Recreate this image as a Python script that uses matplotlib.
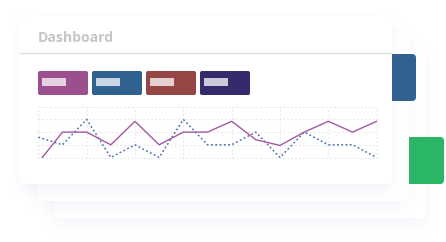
import numpy as np
import matplotlib
matplotlib.use("Agg")
import matplotlib.pyplot as plt
from matplotlib.patches import FancyBboxPatch, Rectangle

W, H = 446, 242

# card stack (x0, y0, x1, y1) in pixels, back to front
back_card = (54, 50, 426, 218)
mid_card = (37, 33, 409, 201)
front_card = (20, 16, 392, 184)
green_tab = (380, 137, 444, 184)
blue_tab = (370, 54, 416, 101)

# line chart
ticks = np.arange(15)
series_a = [-0.4, 2, 2, 1, 2.85, 1, 2, 2, 2.85, 1.4, 0.95, 2, 2.85, 2, 2.85]
series_b = [1.6, 1, 3, 0, 1, 0, 3, 1, 1, 2, 0, 2, 1, 1, 0]

btn_colors = ["#9c4f8e", "#316191", "#974646", "#362a6c"]
title = "Dashboard"


def blur(a, r, n=3):
    # repeated box blur ~ gaussian
    for _ in range(n):
        p = np.pad(a, ((r + 1, r), (0, 0)), mode="edge")
        c = np.cumsum(p, axis=0)
        a = (c[2 * r + 1:] - c[:-2 * r - 1]) / (2 * r + 1)
        p = np.pad(a, ((0, 0), (r + 1, r)), mode="edge")
        c = np.cumsum(p, axis=1)
        a = (c[:, 2 * r + 1:] - c[:, :-2 * r - 1]) / (2 * r + 1)
    return a


def shadow(ax, box, z, alpha=0.10, dy=5, r=7):
    x0, y0, x1, y1 = box
    m = np.zeros((H, W))
    m[int(y0 + dy):int(y1 + dy), int(x0 + 2):int(x1 - 2)] = 1.0
    m = blur(m, r)
    img = np.zeros((H, W, 4))
    img[..., 0], img[..., 1], img[..., 2] = 0.45, 0.52, 0.78
    img[..., 3] = m * alpha
    ax.imshow(img, extent=(0, W, H, 0), zorder=z, interpolation="bilinear")


def card(ax, box, z, color="white", rad=5):
    x0, y0, x1, y1 = box
    ax.add_patch(FancyBboxPatch((x0 + rad, y0 + rad), x1 - x0 - 2 * rad, y1 - y0 - 2 * rad,
                                boxstyle=f"round,pad={rad}", fc=color, ec="none", zorder=z))


fig = plt.figure(figsize=(W / 100, H / 100), dpi=100)
bg = fig.add_axes([0, 0, 1, 1])
bg.set_xlim(0, W); bg.set_ylim(H, 0); bg.axis("off")

shadow(bg, back_card, 1, alpha=0.09)
card(bg, back_card, 2)
card(bg, green_tab, 3, color="#2bb665", rad=4)
shadow(bg, mid_card, 4, alpha=0.08)
card(bg, mid_card, 5)
card(bg, blue_tab, 6, color="#316191", rad=4)
shadow(bg, front_card, 7, alpha=0.10)
card(bg, front_card, 8)

bg.text(37.5, 38.5, title, fontsize=10.1, fontweight="bold", family="Open Sans",
        color="#c6c6c6", va="center", ha="left", zorder=9)
bg.plot([20, 392], [53, 53], color="#e0e0e0", lw=1.0, zorder=9, solid_capstyle="butt")

# colour buttons with a pale label bar
for i, c in enumerate(btn_colors):
    x = 38 + i * 54
    bg.add_patch(FancyBboxPatch((x + 2, 73), 46, 20, boxstyle="round,pad=2",
                                fc=c, ec="none", zorder=9))
    bg.add_patch(Rectangle((x + 4, 78), 24, 8, fc="white", ec="none", alpha=0.75, zorder=10))

ax = fig.add_axes([38.3 / W, 1 - 157.5 / H, (376.7 - 38.3) / W, (157.5 - 106.7) / H])
ax.set_zorder(11)
ax.patch.set_alpha(0)
ax.set_xlim(ticks[0], ticks[-1]); ax.set_ylim(0, 4)
for s in ax.spines.values():
    s.set_visible(False)
ax.set_xticks([]); ax.set_yticks([])
for gx in ticks[::2]:
    ax.axvline(gx, color="#e6e6e6", lw=0.8, ls=(0, (1.5, 2)), clip_on=False)
for gy in range(5):
    ax.axhline(gy, color="#e6e6e6", lw=0.8, ls=(0, (1.5, 2)), clip_on=False)
ax.plot(ticks, series_b, color="#4a74aa", lw=1.1, ls=(0, (1.2, 1.6)))
ax.plot(ticks, series_a, color="#a458a2", lw=1.0)

fig.savefig("out.png", dpi=100, facecolor="white")
